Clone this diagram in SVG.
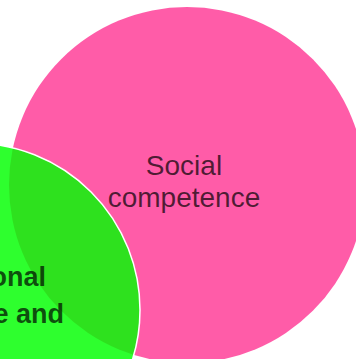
<svg xmlns="http://www.w3.org/2000/svg" width="356" height="359" viewBox="0 0 356 359">
  <style>
    .set { stroke: #ffffff; stroke-width: 1.5; }
    .social { fill: #ff5ca8; }
    .emotional { fill: #00ff00; fill-opacity: 0.82; }
    .label { font-family: "Liberation Sans", Arial, sans-serif; font-size: 28px; }
    .social-label { fill: #000000; fill-opacity: 0.7; text-anchor: middle; }
    .emotional-label { fill: #000000; fill-opacity: 0.7; font-weight: bold; font-size: 27px; text-anchor: end; }
  </style>
  <rect width="356" height="359" fill="#ffffff"/>
  <g id="social-competence">
    <circle class="social" cx="187" cy="185" r="178"/>
    <text class="label social-label" x="184" y="174.5">Social</text>
    <text class="label social-label" x="184" y="206.5">competence</text>
  </g>
  <g id="emotional-knowledge">
    <circle class="set emotional" cx="-27" cy="310" r="167"/>
    <text class="label emotional-label" x="46" y="286">onal</text>
    <text class="label emotional-label" x="64" y="323">e and</text>
  </g>
  <g id="connectors"/>
</svg>
